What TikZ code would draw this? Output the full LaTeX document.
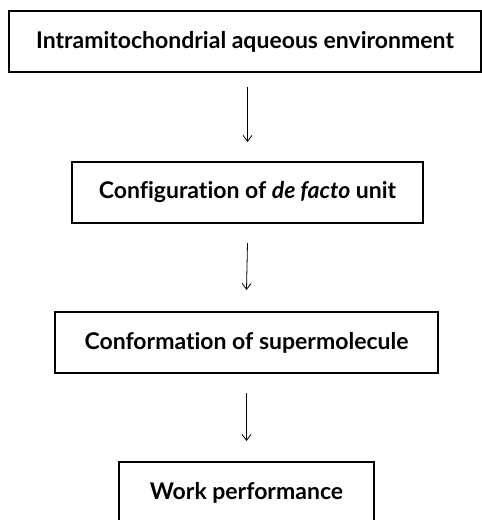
\documentclass[tikz,border=0pt]{standalone}
\usepackage{fontspec}
\setmainfont{Lato}[Ligatures=NoCommon]
\usetikzlibrary{arrows.meta}
\begin{document}
\begin{tikzpicture}[x=1pt,y=-1pt,
  box/.style={draw, line width=1.1pt, inner sep=0pt, outer sep=0pt, anchor=north west,
    minimum height=61pt, font=\fontsize{23}{27}\selectfont\bfseries},
  conn/.style={line width=0.8pt, -{Straight Barb[length=6pt,width=9pt,line width=0.8pt]}}]
\useasboundingbox (0,0) rectangle (482,520);
\clip (0,0) rectangle (482,520);
\node[box, minimum width=472pt] (b1) at (9,11) {Intramitochondrial aqueous environment};
\node[box, minimum width=351pt] (b2) at (72,162) {Configuration of \textit{de facto} unit};
\node[box, minimum width=383pt] (b3) at (55,312) {Conformation of supermolecule};
\node[box, minimum width=255pt] (b4) at (119,462) {Work performance};
\path (b1.south -| b2.north) coordinate (a1);
\draw[conn] ([yshift=-15pt]a1) -- ([yshift=20pt]b2.north);
\draw[conn] ([yshift=-20pt]b2.south) -- ([yshift=22pt]b3.north);
\draw[conn] ([yshift=-20pt]b3.south) -- ([yshift=21pt]b4.north);
\end{tikzpicture}
\end{document}
